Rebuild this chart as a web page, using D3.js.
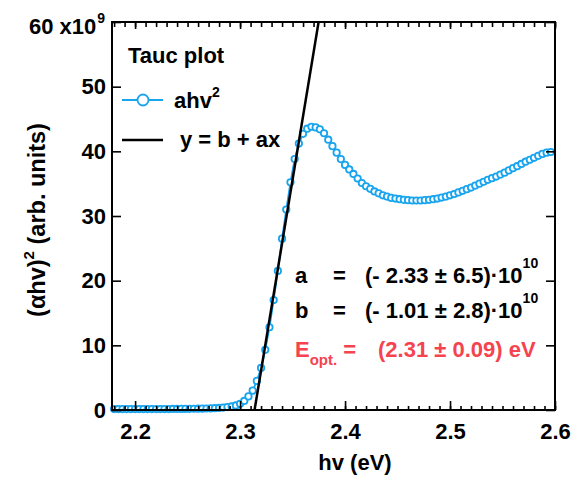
<!DOCTYPE html>
<html>
<head>
<meta charset="utf-8">
<script src="https://cdn.jsdelivr.net/npm/d3@7"></script>
<style>
body { margin: 0; background: #fff; }
text { font-family: "Liberation Sans", Arial, sans-serif; font-weight: bold; fill: #000; }
</style>
</head>
<body>
<div id="chart"></div>
<script>
// photon energy (eV)
var hv = [2.180, 2.184, 2.188, 2.192, 2.196, 2.200, 2.204, 2.208, 2.212, 2.216,
          2.220, 2.224, 2.228, 2.232, 2.236, 2.240, 2.244, 2.248, 2.252, 2.256,
          2.260, 2.264, 2.268, 2.272, 2.276, 2.280, 2.284, 2.288, 2.292, 2.296,
          2.300, 2.304, 2.308, 2.312, 2.316, 2.320, 2.324, 2.328, 2.332, 2.336,
          2.340, 2.344, 2.348, 2.352, 2.356, 2.360, 2.364, 2.368, 2.372, 2.376,
          2.380, 2.384, 2.388, 2.392, 2.396, 2.400, 2.404, 2.408, 2.412, 2.416,
          2.420, 2.424, 2.428, 2.432, 2.436, 2.440, 2.444, 2.448, 2.452, 2.456,
          2.460, 2.464, 2.468, 2.472, 2.476, 2.480, 2.484, 2.488, 2.492, 2.496,
          2.500, 2.504, 2.508, 2.512, 2.516, 2.520, 2.524, 2.528, 2.532, 2.536,
          2.540, 2.544, 2.548, 2.552, 2.556, 2.560, 2.564, 2.568, 2.572, 2.576,
          2.580, 2.584, 2.588, 2.592, 2.596];
// (alpha hv)^2 in units of 1e9
var ahv2 = [0.15, 0.15, 0.15, 0.15, 0.15, 0.15, 0.15, 0.15, 0.15, 0.15,
            0.15, 0.15, 0.15, 0.15, 0.16, 0.16, 0.17, 0.17, 0.18, 0.19,
            0.20, 0.21, 0.23, 0.25, 0.28, 0.32, 0.37, 0.45, 0.55, 0.70,
            0.95, 1.4, 2.1, 3.0, 4.5, 6.5, 9.3, 12.8, 17.0, 21.5,
            26.5, 31.0, 35.2, 38.8, 41.2, 42.7, 43.5, 43.8, 43.7, 43.4,
            42.8, 41.8, 40.8, 39.8, 38.8, 37.9, 37.2, 36.5, 35.8, 35.1,
            34.6, 34.2, 33.8, 33.5, 33.2, 33.0, 32.8, 32.7, 32.6, 32.5,
            32.45, 32.4, 32.4, 32.4, 32.45, 32.5, 32.6, 32.7, 32.85, 33.0,
            33.2, 33.4, 33.65, 33.9, 34.15, 34.4, 34.7, 35.0, 35.3, 35.6,
            35.85, 36.1, 36.4, 36.7, 37.05, 37.4, 37.7, 38.05, 38.4, 38.7,
            39.0, 39.3, 39.6, 39.8, 39.9];
// linear fit y = b + ax, end points
var fitHv = [2.3138, 2.3748];
var fitY = [0, 60];

var xTicks = [2.2, 2.3, 2.4, 2.5, 2.6];
var yTicks = [0, 10, 20, 30, 40, 50, 60];

var width = 572, height = 480;
var plotLeft = 112, plotRight = 555, plotTop = 22, plotBottom = 410;
var blue = '#18a4ee', red = '#f5434f';
var fs = 22;

var svg = d3.select('#chart').append('svg')
    .attr('width', width)
    .attr('height', height);

var x = d3.scaleLinear().domain([2.178, 2.6]).range([plotLeft, plotRight]);
var y = d3.scaleLinear().domain([0, 60]).range([plotBottom, plotTop]);

var minorTicks = x.ticks(42).filter(function(d){ return d >= 2.178; });

svg.append('clipPath').attr('id', 'clip')
    .append('rect')
    .attr('x', plotLeft).attr('y', plotTop)
    .attr('width', plotRight - plotLeft).attr('height', plotBottom - plotTop);

//data series
var pts = hv.map(function(d, i){ return [d, ahv2[i]]; });

svg.append('path')
    .datum(pts)
    .attr('fill', 'none')
    .attr('stroke', blue)
    .attr('stroke-width', 1.8)
    .attr('d', d3.line().x(function(d){ return x(d[0]); }).y(function(d){ return y(d[1]); }));

svg.append('g').selectAll('circle')
    .data(pts)
    .enter()
    .append('circle')
    .attr('cx', function(d){ return x(d[0]); })
    .attr('cy', function(d){ return y(d[1]); })
    .attr('r', 3.2)
    .attr('fill', '#fff')
    .attr('stroke', blue)
    .attr('stroke-width', 1.8);

//fit line
svg.append('path')
    .datum(fitHv.map(function(d, i){ return [d, fitY[i]]; }))
    .attr('clip-path', 'url(#clip)')
    .attr('fill', 'none')
    .attr('stroke', '#000')
    .attr('stroke-width', 2.5)
    .attr('d', d3.line().x(function(d){ return x(d[0]); }).y(function(d){ return y(d[1]); }));

//axes (ticks inside)
function styleAxis(g){
    g.select('.domain').remove();
    g.selectAll('line').attr('stroke', '#000').attr('stroke-width', 1.6);
    g.selectAll('text').attr('font-size', fs).style('font-family', '"Liberation Sans", Arial, sans-serif').style('font-weight', 'bold');
}

svg.append('g').attr('transform', 'translate(0,' + plotBottom + ')')
    .call(d3.axisBottom(x).tickValues(minorTicks).tickSize(-4).tickFormat(''))
    .call(styleAxis);
svg.append('g').attr('transform', 'translate(0,' + plotBottom + ')')
    .call(d3.axisBottom(x).tickValues(xTicks).tickSizeInner(-9).tickPadding(13).tickFormat(d3.format('.1f')))
    .call(styleAxis);

svg.append('g').attr('transform', 'translate(0,' + plotTop + ')')
    .call(d3.axisTop(x).tickValues(minorTicks).tickSize(-5).tickFormat(''))
    .call(styleAxis);
svg.append('g').attr('transform', 'translate(0,' + plotTop + ')')
    .call(d3.axisTop(x).tickValues(xTicks).tickSize(-7).tickFormat(''))
    .call(styleAxis);

svg.append('g').attr('transform', 'translate(' + plotLeft + ',0)')
    .call(d3.axisLeft(y).tickValues(yTicks).tickSizeInner(-9).tickPadding(6)
        .tickFormat(function(d){ return d === 60 ? '' : d; }))
    .call(styleAxis);

svg.append('g').attr('transform', 'translate(' + plotRight + ',0)')
    .call(d3.axisRight(y).tickValues(yTicks).tickSize(-9).tickFormat(''))
    .call(styleAxis);

//frame
svg.append('rect')
    .attr('x', plotLeft).attr('y', plotTop)
    .attr('width', plotRight - plotLeft).attr('height', plotBottom - plotTop)
    .attr('fill', 'none')
    .attr('stroke', '#000')
    .attr('stroke-width', 2);

//top tick label with multiplier
var t60 = svg.append('text')
    .attr('x', 29).attr('y', 34)
    .attr('font-size', fs);
t60.append('tspan').text('60 x10');
t60.append('tspan').attr('dx', 1).attr('dy', -11).attr('font-size', 14).text('9');

//axis titles
svg.append('text')
    .attr('x', 355).attr('y', 470)
    .attr('text-anchor', 'middle')
    .attr('font-size', fs)
    .text('hv (eV)');

var ylab = svg.append('text')
    .attr('transform', 'translate(45,220) rotate(-90)')
    .attr('text-anchor', 'middle')
    .attr('font-size', 23.5);
ylab.append('tspan').text('(\u03b1hv)');
ylab.append('tspan').attr('dy', -11).attr('font-size', 15).text('2');
ylab.append('tspan').attr('dy', 11).text(' (arb. units)');

//legend
svg.append('text').attr('x', 128).attr('y', 63).attr('font-size', fs).text('Tauc plot');

svg.append('line')
    .attr('x1', 122).attr('x2', 163).attr('y1', 100).attr('y2', 100)
    .attr('stroke', blue).attr('stroke-width', 2);
svg.append('circle')
    .attr('cx', 143).attr('cy', 100).attr('r', 5.5)
    .attr('fill', '#fff').attr('stroke', blue).attr('stroke-width', 1.8);
var l1 = svg.append('text').attr('x', 174).attr('y', 108).attr('font-size', fs);
l1.append('tspan').text('ahv');
l1.append('tspan').attr('dy', -11).attr('font-size', 14).text('2');

svg.append('line')
    .attr('x1', 122).attr('x2', 163).attr('y1', 140).attr('y2', 140)
    .attr('stroke', '#000').attr('stroke-width', 2.5);
svg.append('text').attr('x', 180).attr('y', 147).attr('font-size', fs).text('y = b + ax');

//fit results
function fitRow(label, value, yPos){
    svg.append('text').attr('x', 295).attr('y', yPos).attr('font-size', fs).text(label);
    svg.append('text').attr('x', 333).attr('y', yPos).attr('font-size', fs).text('=');
    var t = svg.append('text').attr('x', 365).attr('y', yPos).attr('font-size', fs);
    t.append('tspan').text(value + '\u00b710');
    t.append('tspan').attr('dy', -15).attr('font-size', 14).text('10');
}
fitRow('a', '(- 2.33 \u00b1 6.5)', 283);
fitRow('b', '(- 1.01 \u00b1 2.8)', 318);

var e = svg.append('text').attr('x', 295).attr('y', 357).attr('font-size', fs).style('fill', red);
e.append('tspan').text('E');
e.append('tspan').attr('dy', 8).attr('font-size', 15).text('opt.');
e.append('tspan').attr('dy', -8).text(' =');
svg.append('text').attr('x', 378).attr('y', 357).attr('font-size', fs).style('fill', red)
    .text('(2.31 \u00b1 0.09) eV');
</script>
</body>
</html>
